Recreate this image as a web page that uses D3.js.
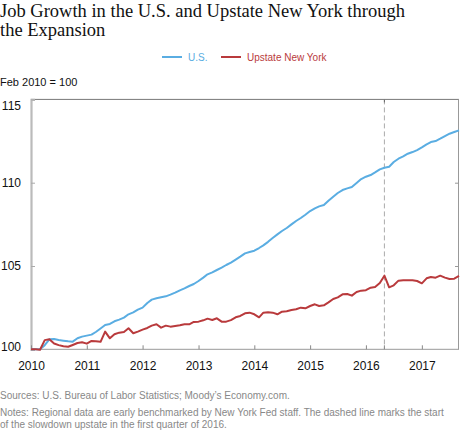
<!DOCTYPE html>
<html><head><meta charset="utf-8">
<script src="https://cdn.jsdelivr.net/npm/d3@7"></script>
<style>
html,body{margin:0;padding:0;background:#fff;}
svg{display:block;}
</style></head>
<body>
<script>
// ---- data ----
const startMonth = "2010-01";
const endMonth = "2017-09";
const usValues = [100.0,100.0,100.0,100.25,100.6,100.62,100.56,100.52,100.48,100.46,100.66,100.76,
100.82,100.88,101.04,101.25,101.46,101.52,101.68,101.78,101.9,102.1,102.22,102.38,
102.5,102.78,102.98,103.06,103.12,103.18,103.28,103.4,103.54,103.66,103.8,103.92,
104.1,104.3,104.5,104.62,104.76,104.9,105.06,105.2,105.38,105.56,105.76,105.84,
105.92,106.08,106.24,106.45,106.68,106.9,107.1,107.28,107.5,107.7,107.88,108.08,
108.3,108.46,108.58,108.66,108.92,109.16,109.38,109.56,109.66,109.74,109.98,110.22,
110.36,110.46,110.62,110.8,110.9,110.96,111.24,111.44,111.58,111.74,111.84,111.96,
112.12,112.3,112.44,112.5,112.64,112.8,112.94,113.04,113.14];
const upstateValues = [100.0,100.0,99.97,100.55,100.6,100.35,100.25,100.18,100.15,100.26,100.38,100.42,
100.34,100.5,100.48,100.45,101.06,100.66,100.9,101.0,101.04,101.26,100.96,101.06,
101.18,101.28,101.42,101.5,101.3,101.42,101.36,101.4,101.44,101.5,101.5,101.64,
101.66,101.74,101.84,101.76,101.86,101.66,101.66,101.75,101.92,102.0,102.16,102.2,
102.1,101.92,102.2,102.22,102.2,102.1,102.26,102.28,102.36,102.4,102.5,102.46,
102.6,102.7,102.6,102.64,102.82,103.02,103.12,103.3,103.32,103.22,103.44,103.52,
103.55,103.7,103.74,103.98,104.42,103.72,103.84,104.12,104.14,104.15,104.14,104.1,
103.96,104.26,104.34,104.3,104.42,104.3,104.22,104.24,104.4];
const seriesNames = ["U.S.", "Upstate New York"];
const yTicks = [100, 105, 110, 115];
const xTickYears = [2010, 2011, 2012, 2013, 2014, 2015, 2016, 2017];
const slowdownMonth = "2016-05";
const titleLines = ["Job Growth in the U.S. and Upstate New York through", "the Expansion"];
const yAxisTitle = "Feb 2010 = 100";
const sourceText = "Sources: U.S. Bureau of Labor Statistics; Moody\u2019s Economy.com.";
const noteLines = ["Notes: Regional data are early benchmarked by New York Fed staff. The dashed line marks the start",
                   "of the slowdown upstate in the first quarter of 2016."];

// ---- setup ----
const W = 460, H = 430;
const parseM = d3.timeParse("%Y-%m");
const months = d3.timeMonth.range(parseM(startMonth), d3.timeMonth.offset(parseM(endMonth), 1));
const colors = ["#5aade2", "#b93a3c"];
const sans = "'Liberation Sans', Arial, sans-serif";

const svg = d3.select("body").append("svg").attr("width", W).attr("height", H);

const plot = {left: 31, right: 459, top: 99.4, bottom: 349.3};
const x = d3.scaleTime().domain([parseM(startMonth), parseM(endMonth)]).range([plot.left, plot.right]);
const y = d3.scaleLinear().domain([100, 115]).range([plot.bottom, plot.top]);

// title
svg.append("g").selectAll("text").data(titleLines).join("text")
  .attr("x", 0).attr("y", (d, i) => 17 + i * 18.5)
  .attr("font-family", "'Liberation Serif', 'Times New Roman', serif")
  .attr("font-size", 18.5).attr("fill", "#111").text(d => d);

// legend
const legendItems = [{name: seriesNames[0], c: colors[0], x0: 162}, {name: seriesNames[1], c: colors[1], x0: 221}];
const lg = svg.append("g").selectAll("g").data(legendItems).join("g");
lg.append("line").attr("x1", d => d.x0).attr("x2", d => d.x0 + 20).attr("y1", 57).attr("y2", 57)
  .attr("stroke", d => d.c).attr("stroke-width", 2);
lg.append("text").attr("x", d => d.x0 + 26).attr("y", 61).attr("font-family", sans).attr("font-size", 10)
  .attr("fill", d => d.c).text(d => d.name);

// axis title
svg.append("text").attr("x", 0).attr("y", 86).attr("font-family", sans).attr("font-size", 11)
  .attr("fill", "#111").text(yAxisTitle);

// frame
svg.append("line").attr("x1", plot.left).attr("x2", plot.right).attr("y1", plot.top).attr("y2", plot.top)
  .attr("stroke", "#777").attr("stroke-width", 1);
svg.append("line").attr("x1", plot.right - 0.5).attr("x2", plot.right - 0.5).attr("y1", plot.top).attr("y2", plot.bottom)
  .attr("stroke", "#999").attr("stroke-width", 1);
svg.append("line").attr("x1", plot.left).attr("x2", plot.right).attr("y1", plot.bottom).attr("y2", plot.bottom)
  .attr("stroke", "#999").attr("stroke-width", 1);

// y axis
const yAxis = d3.axisLeft(y).tickValues(yTicks).tickSize(-4).tickPadding(10).tickFormat(d3.format("d"));
const gy = svg.append("g").attr("transform", `translate(${plot.left},0)`).call(yAxis);
gy.select(".domain").attr("stroke", "#bbb").attr("stroke-width", 2.2);
gy.selectAll(".tick line").attr("stroke", "#aaa");
gy.selectAll(".tick text").attr("font-family", sans).attr("font-size", 12).attr("fill", "#111")
  .attr("x", -10)
  .attr("y", d => Math.min(Math.max(y(d), plot.top + 6), plot.bottom - 3) - y(d));
// right ticks
const yAxisR = d3.axisRight(y).tickValues(yTicks.slice(1, 3)).tickSize(-4).tickFormat("");
const gyr = svg.append("g").attr("transform", `translate(${plot.right},0)`).call(yAxisR);
gyr.select(".domain").remove();
gyr.selectAll(".tick line").attr("stroke", "#999");

// x axis
const xAxis = d3.axisBottom(x).tickValues(xTickYears.map(yr => new Date(yr, 0, 1)))
  .tickSize(-4).tickPadding(12).tickFormat(d3.timeFormat("%Y"));
const gx = svg.append("g").attr("transform", `translate(0,${plot.bottom})`).call(xAxis);
gx.select(".domain").remove();
gx.selectAll(".tick line").attr("stroke", "#888");
gx.selectAll(".tick text").attr("font-family", sans).attr("font-size", 12).attr("fill", "#111");

// dashed line
const xd = x(parseM(slowdownMonth));
svg.append("line").attr("x1", xd).attr("x2", xd).attr("y1", plot.top).attr("y2", plot.bottom)
  .attr("stroke", "#aaa").attr("stroke-width", 1).attr("stroke-dasharray", "5,3");
svg.append("line").attr("x1", xd).attr("x2", xd).attr("y1", plot.top).attr("y2", plot.top + 3)
  .attr("stroke", "#666").attr("stroke-width", 1);
svg.append("line").attr("x1", xd).attr("x2", xd).attr("y1", plot.bottom - 4).attr("y2", plot.bottom)
  .attr("stroke", "#888").attr("stroke-width", 1);

// lines
const line = d3.line().x((d, i) => x(months[i])).y(d => y(d));
svg.append("g").selectAll("path").data([usValues, upstateValues]).join("path")
  .attr("d", line).attr("fill", "none").attr("stroke", (d, i) => colors[i])
  .attr("stroke-width", 2).attr("stroke-linejoin", "round");

// footnotes
svg.append("text").attr("x", 0).attr("y", 399).attr("font-family", sans).attr("font-size", 10)
  .attr("fill", "#888").text(sourceText);
svg.append("g").selectAll("text").data(noteLines).join("text")
  .attr("x", 0).attr("y", (d, i) => 416 + i * 11.5).attr("font-family", sans).attr("font-size", 10)
  .attr("fill", "#888").text(d => d);
</script>
</body></html>
